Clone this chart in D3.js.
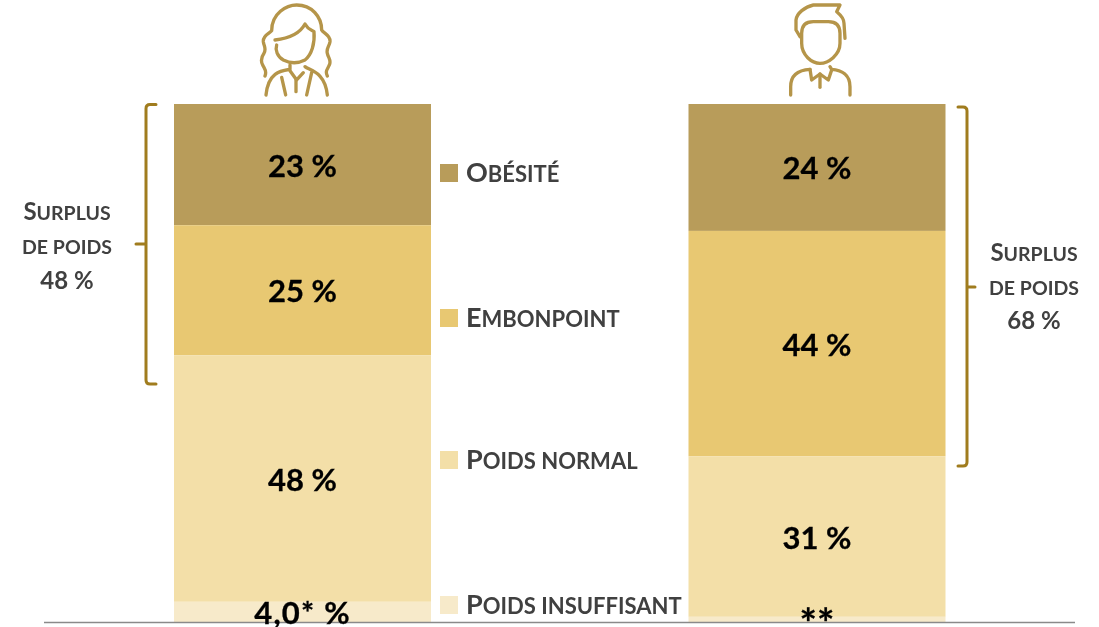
<!DOCTYPE html>
<html><head><meta charset="utf-8">
<script src="https://cdn.jsdelivr.net/npm/d3@7"></script>
<style>
html,body{margin:0;padding:0;background:#fff;overflow:hidden}
text{font-family:Lato,"Open Sans",sans-serif;font-weight:700}
</style></head><body><svg id="c" width="1099" height="627"></svg>
<script>
const categories=["Obésité","Embonpoint","Poids normal","Poids insuffisant"];
const groups=["Femmes","Hommes"];
const womenValues=[23.4,25.1,47.6,3.9];
const menValues=[24.5,43.5,31.0,1.0];
const womenLabels=["23 %","25 %","48 %","4,0* %"];
const menLabels=["24 %","44 %","31 %","**"];
const colors=["#b89c5a","#e8c872","#f3dfa8","#f7eaca"];
const surplusLines=[["Surplus","de poids","48 %"],["Surplus","de poids","68 %"]];

const svg=d3.select("#c");
const defs=svg.append("defs");
defs.append("filter").attr("id","soft").append("feGaussianBlur").attr("stdDeviation",0.4);
const y=d3.scaleLinear().domain([0,100]).range([622,104]);
const x=d3.scaleOrdinal().domain(groups).range([174,688.5]);
const barW=257;
const series=[womenValues,menValues];
const labels=[womenLabels,menLabels];

// Small capitals as real text: capitals stay large, the rest is shown in reduced capitals.
function smallCaps(sel,text,big,small){
  sel.text(null);
  text.split("").forEach(ch=>{
    const up=ch!==ch.toLowerCase();
    sel.append("tspan").attr("font-size",up?big:small).text(ch.toUpperCase());
  });
}

groups.forEach((g,gi)=>{
  let top=100;
  series[gi].forEach((v,i)=>{
    const hi=top, lo=top-v; top=lo;
    svg.append("rect").attr("x",x(g)).attr("width",barW)
      .attr("y",y(hi)).attr("height",y(lo)-y(hi)).attr("fill",colors[i]);
  });
});

// baseline
svg.append("line").attr("x1",44).attr("x2",1075).attr("y1",y(0)+0.5).attr("y2",y(0)+0.5)
  .attr("stroke","#8a8a8a").attr("stroke-width",1.5);

const fg=svg.append("g").attr("filter","url(#soft)");
groups.forEach((g,gi)=>{
  let top=100;
  series[gi].forEach((v,i)=>{
    const hi=top, lo=top-v; top=lo;
    const stars=labels[gi][i]==="**";
    const last=i==3;
    fg.append("text").attr("x",x(g)+barW/2)
      .attr("y",stars?y(lo)+16:(y(hi)+y(lo))/2+12)
      .attr("text-anchor","middle").attr("font-size",stars?41:31)
      .attr("letter-spacing",last&&!stars?1.2:0)
      .attr("stroke","#000").attr("stroke-width",0.3)
      .attr("fill","#000").text(labels[gi][i]);
  });
});

// legend
const legendY=[164,309,451,596];
categories.forEach((c,i)=>{
  svg.append("rect").attr("x",440).attr("y",legendY[i]).attr("width",18).attr("height",18).attr("fill",colors[i]);
  fg.append("text").attr("x",466).attr("y",legendY[i]+18).attr("fill","#404040").call(smallCaps,c,27,22);
});

// brackets
function br(xv,xe,xt,y0,y1,ym){
  const d=d3.path();
  const s=Math.sign(xe-xv);
  d.moveTo(xe,y0); d.lineTo(xv+s*4,y0); d.quadraticCurveTo(xv,y0,xv,y0+4);
  d.lineTo(xv,y1-4); d.quadraticCurveTo(xv,y1,xv+s*4,y1); d.lineTo(xe,y1);
  d.moveTo(xv,ym); d.lineTo(xt,ym);
  svg.append("path").attr("d",d.toString()).attr("fill","none").attr("stroke","#a07c1e").attr("stroke-width",3).attr("stroke-linecap","round");
}
br(146,156,136,104.5,384,244);
br(967,958,975,107,466,287);

// surplus labels
[[67,[220,254,289]],[1034,[261,295,329]]].forEach(([cx,ys],k)=>{
  surplusLines[k].forEach((t,i)=>{
    const el=fg.append("text").attr("x",cx).attr("y",ys[i]).attr("text-anchor","middle").attr("fill","#404040");
    if(i==2) el.attr("font-size",24).text(t); else el.call(smallCaps,t,24,19.5);
  });
});

// icons
const iconStyle=g=>g.attr("fill","none").attr("stroke","#b5954a").attr("stroke-width",10).attr("stroke-linecap","round").attr("stroke-linejoin","round").attr("filter","url(#soft)");
const woman=svg.append("g").attr("transform","translate(240,0) scale(0.3333)").call(iconStyle);
[
"M75,228 C82,212 72,205 68,195 C60,180 65,170 72,160 C80,145 72,140 70,125 C68,105 90,100 95,92 C95,40 140,15 170,15 C215,15 245,50 245,90 C250,100 272,105 270,125 C268,140 258,145 262,160 C265,175 275,180 268,195 C262,210 255,212 262,228",
"M105,120 C150,115 180,100 195,72 C205,90 215,90 222,95 C225,130 215,165 195,180 C175,190 150,190 130,180 C112,170 105,150 110,135",
"M150,195 L150,208 C125,212 85,215 78,285",
"M195,200 C210,212 255,215 262,285",
"M125,232 L137,285","M150,212 L170,240 L190,218","M168,240 L168,275","M215,218 L200,285"
].forEach(d=>woman.append("path").attr("d",d));
const man=svg.append("g").attr("transform","translate(770,0) scale(0.3333)").call(iconStyle);
[
"M225,115 L222,70 C222,50 205,40 200,35 L210,15 L130,15 C105,20 80,40 78,60 L78,90 L90,110",
"M95,100 C95,75 110,65 130,65 L175,65 C195,65 210,75 210,100 L210,130 C210,165 175,190 150,190 C125,190 95,165 95,130 Z",
"M62,285 L62,260 C62,225 85,210 120,208",
"M180,200 L185,208 C215,210 240,225 240,260 L240,285",
"M120,208 L125,240 L150,222 L175,240 L185,210","M150,222 L150,262"
].forEach(d=>man.append("path").attr("d",d));
</script></body></html>
